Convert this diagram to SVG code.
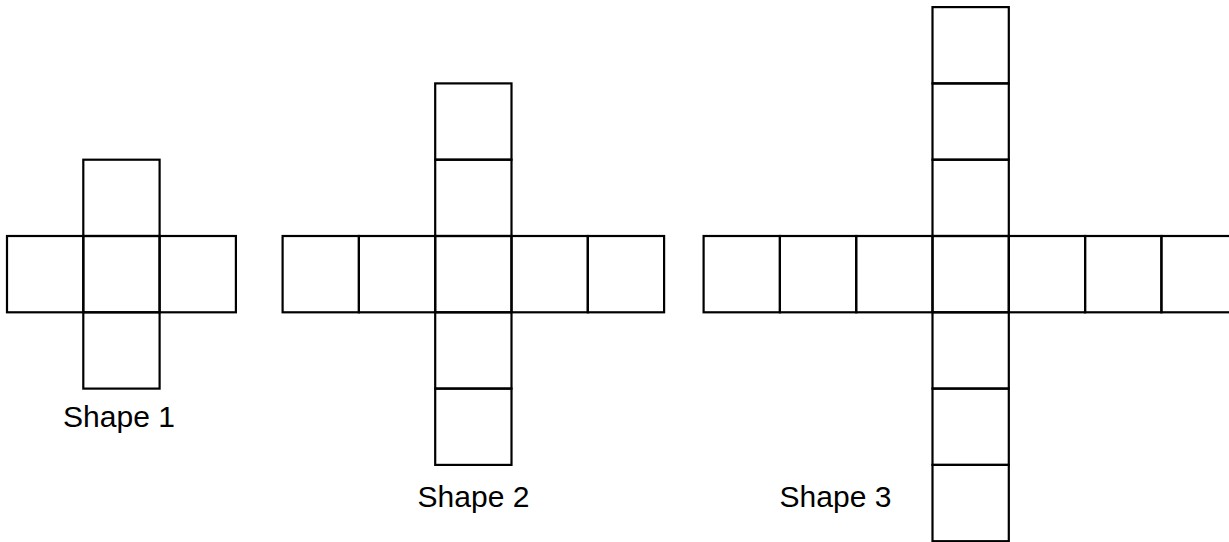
<svg xmlns="http://www.w3.org/2000/svg" width="1229" height="542" viewBox="0 0 1229 542">
<style>
rect.sq{fill:none;stroke:#000;stroke-width:2.2}
text{font-family:"Liberation Sans",Arial,sans-serif;font-size:30px;fill:#000;text-anchor:middle}
</style>
<rect width="1229" height="542" fill="#fff"/>
<g id="shape1">
<rect class="sq" x="7" y="236" width="76.3" height="76.3"/>
<rect class="sq" x="83.3" y="236" width="76.3" height="76.3"/>
<rect class="sq" x="159.6" y="236" width="76.3" height="76.3"/>
<rect class="sq" x="83.3" y="159.7" width="76.3" height="76.3"/>
<rect class="sq" x="83.3" y="312.3" width="76.3" height="76.3"/>
<text x="119" y="427">Shape 1</text>
</g>
<g id="shape2">
<rect class="sq" x="282.6" y="236" width="76.3" height="76.3"/>
<rect class="sq" x="358.9" y="236" width="76.3" height="76.3"/>
<rect class="sq" x="435.2" y="236" width="76.3" height="76.3"/>
<rect class="sq" x="511.5" y="236" width="76.3" height="76.3"/>
<rect class="sq" x="587.8" y="236" width="76.3" height="76.3"/>
<rect class="sq" x="435.2" y="83.4" width="76.3" height="76.3"/>
<rect class="sq" x="435.2" y="159.7" width="76.3" height="76.3"/>
<rect class="sq" x="435.2" y="312.3" width="76.3" height="76.3"/>
<rect class="sq" x="435.2" y="388.6" width="76.3" height="76.3"/>
<text x="473.5" y="506.5">Shape 2</text>
</g>
<g id="shape3">
<rect class="sq" x="703.6" y="236" width="76.3" height="76.3"/>
<rect class="sq" x="779.9" y="236" width="76.3" height="76.3"/>
<rect class="sq" x="856.2" y="236" width="76.3" height="76.3"/>
<rect class="sq" x="932.5" y="236" width="76.3" height="76.3"/>
<rect class="sq" x="1008.8" y="236" width="76.3" height="76.3"/>
<rect class="sq" x="1085.1" y="236" width="76.3" height="76.3"/>
<rect class="sq" x="1161.4" y="236" width="76.3" height="76.3"/>
<rect class="sq" x="932.5" y="7.1" width="76.3" height="76.3"/>
<rect class="sq" x="932.5" y="83.4" width="76.3" height="76.3"/>
<rect class="sq" x="932.5" y="159.7" width="76.3" height="76.3"/>
<rect class="sq" x="932.5" y="312.3" width="76.3" height="76.3"/>
<rect class="sq" x="932.5" y="388.6" width="76.3" height="76.3"/>
<rect class="sq" x="932.5" y="464.9" width="76.3" height="76.3"/>
<text x="835.5" y="506.5">Shape 3</text>
</g>
<g id="connectors"/>
</svg>
